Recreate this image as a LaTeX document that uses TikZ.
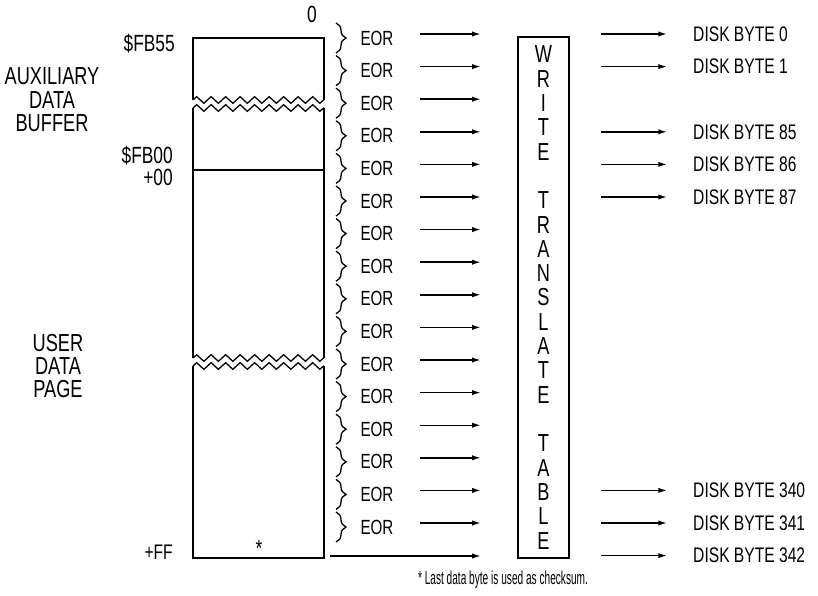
\documentclass[tikz,border=0pt]{standalone}
\usepackage{fontspec}
\setmainfont{Liberation Sans}[FakeStretch=0.74]
\newfontfamily\notefont{Liberation Sans}[FakeStretch=0.54]
\usetikzlibrary{arrows.meta,positioning,decorations.pathreplacing,decorations.pathmorphing}

\begin{document}
\begin{tikzpicture}[x=0.03cm,y=-0.03cm,
    lbl/.style={inner sep=0pt,font=\fontsize{20}{22}\selectfont},
    side/.style={inner sep=0pt,align=center,font=\fontsize{21}{20}\selectfont},
    eor/.style={inner sep=0pt,font=\fontsize{17.5}{18}\selectfont},
    disk/.style={inner sep=0pt,anchor=west,font=\fontsize{18}{20}\selectfont},
    tbl/.style={draw,line width=2.2pt,minimum width=1.53cm,minimum height=15.63cm,inner sep=0pt,align=center,font=\fontsize{21}{20.75}\selectfont},
    arrow/.style={-{Latex[length=2.6mm,width=1.6mm]},line width=1.2pt},
    edge/.style={line width=2.2pt},
    zz/.style={line width=1.1pt,decorate,decoration={zigzag,segment length=0.435cm,amplitude=0.1cm}},
    brc/.style={line width=1.1pt,decorate,decoration={brace,amplitude=0.3cm}}
  ]
  \useasboundingbox (0,0) rectangle (818,596);

  % memory page with the auxiliary buffer on top
  \draw[edge] (193,100) -- (193,38) -- (324,38) -- (324,100);
  \draw[edge] (193,108) -- (193,358);
  \draw[edge] (324,108) -- (324,358);
  \draw[edge] (193,366) -- (193,558) -- (324,558) -- (324,366);
  \draw[line width=1.6pt] (193,170) -- (324,170);
  \foreach \z in {100,108,358,366}
    \draw[zz] (193,\z) -- (324,\z);

  \node[lbl] (zero) at (312,14) {0};
  \node[lbl,anchor=east] (fb55) at (175,44) {\$FB55};
  \node[side] (aux) at (52,100) {AUXILIARY\\DATA\\BUFFER};
  \node[lbl,anchor=east] (fb00) at (173,156) {\$FB00};
  \node[lbl,anchor=east] (p00) at (173,177) {+00};
  \node[side] (user) at (58,366) {USER\\DATA\\PAGE};
  \node[lbl,anchor=east,font=\fontsize{18}{18}\selectfont] (pff) at (173,552) {+FF};
  \node[lbl] (star) at (259,548) {*};

  % translate table
  \node[tbl] (tbl) at (543.5,297.5) {W\\R\\I\\T\\E\\[20.75pt]T\\R\\A\\N\\S\\L\\A\\T\\E\\[20.75pt]T\\A\\B\\L\\E};

  % EOR rows
  \foreach \i in {0,...,15} {
    \pgfmathsetmacro\y{34+32.6*\i}
    \draw[brc] (336,\y-11) -- (336,\y+19);
    \node[eor] (e\i) at (377,\y+4) {EOR};
    \coordinate (a\i) at (420,\y);
    \draw[arrow] (a\i) -- ([xshift=-1.08cm]tbl.west |- a\i);
  }
  \coordinate (a16) at (330,556);
  \draw[arrow] (a16) -- ([xshift=-1.08cm]tbl.west |- a16);

  % disk bytes
  \foreach \i/\n in {0/0,1/1,3/85,4/86,5/87,14/340,15/341,16/342} {
    \pgfmathsetmacro\y{34+32.6*\i}
    \node[disk] (d\i) at (693,\y) {DISK BYTE \n};
    \draw[arrow] ([xshift=0.93cm]tbl.east |- d\i.west) -- ([xshift=-0.78cm]d\i.west);
  }

  \node[inner sep=0pt,font=\notefont\fontsize{16}{17}\selectfont] (note) at (503,580) {* Last data byte is used as checksum.};
\end{tikzpicture}
\end{document}
